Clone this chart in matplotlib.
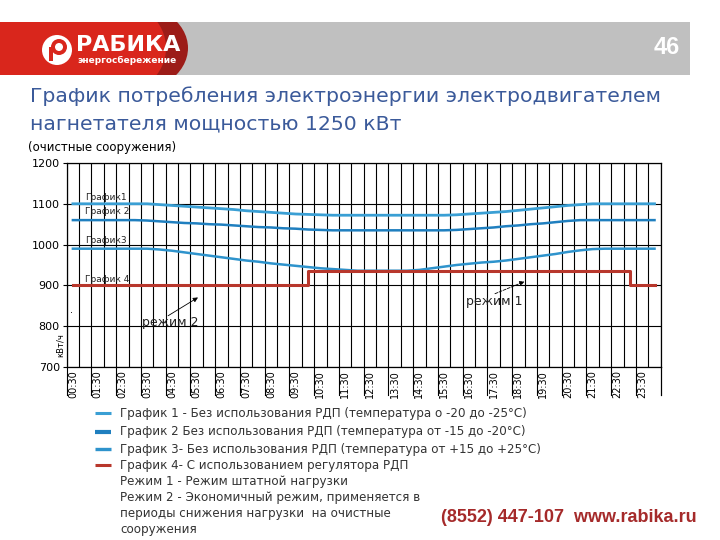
import numpy as np
import matplotlib
matplotlib.use("Agg")
import matplotlib.pyplot as plt
from matplotlib import font_manager
from matplotlib.patches import Rectangle, Ellipse, Circle
from matplotlib.transforms import blended_transform_factory

# ---------------- data ----------------
times = ["00:30", "01:00", "01:30", "02:00", "02:30", "03:00", "03:30", "04:00",
         "04:30", "05:00", "05:30", "06:00", "06:30", "07:00", "07:30", "08:00",
         "08:30", "09:00", "09:30", "10:00", "10:30", "11:00", "11:30", "12:00",
         "12:30", "13:00", "13:30", "14:00", "14:30", "15:00", "15:30", "16:00",
         "16:30", "17:00", "17:30", "18:00", "18:30", "19:00", "19:30", "20:00",
         "20:30", "21:00", "21:30", "22:00", "22:30", "23:00", "23:30", "24:00"]

graph1 = [1100, 1100, 1100, 1100, 1100, 1100, 1100, 1098, 1096, 1094, 1092, 1090,
          1088, 1086, 1083, 1081, 1079, 1077, 1075, 1074, 1073, 1072, 1072, 1072,
          1072, 1072, 1072, 1072, 1072, 1072, 1072, 1073, 1075, 1077, 1079, 1081,
          1084, 1087, 1090, 1093, 1096, 1098, 1100, 1100, 1100, 1100, 1100, 1100]

graph2 = [1060, 1060, 1060, 1060, 1060, 1060, 1059, 1057, 1055, 1053, 1052, 1050,
          1049, 1047, 1045, 1043, 1042, 1040, 1039, 1037, 1036, 1035, 1035, 1035,
          1035, 1035, 1035, 1035, 1035, 1035, 1035, 1036, 1038, 1040, 1042, 1045,
          1047, 1050, 1052, 1055, 1058, 1060, 1060, 1060, 1060, 1060, 1060, 1060]

graph3 = [990, 990, 990, 990, 990, 990, 990, 988, 985, 981, 977, 973,
          969, 965, 961, 958, 954, 951, 948, 945, 942, 940, 938, 936,
          936, 936, 936, 936, 938, 942, 946, 950, 953, 956, 958, 961,
          965, 969, 973, 977, 982, 986, 989, 990, 990, 990, 990, 990]

graph4 = [900, 900, 900, 900, 900, 900, 900, 900, 900, 900, 900, 900,
          900, 900, 900, 900, 900, 900, 900, 935, 935, 935, 935, 935,
          935, 935, 935, 935, 935, 935, 935, 935, 935, 935, 935, 935,
          935, 935, 935, 935, 935, 935, 935, 935, 935, 900, 900, 900]

yticks = [700, 800, 900, 1000, 1100, 1200]

series_labels = ["График1", "График 2", "График3", "График 4"]
legend_lines = [
    "График 1 - Без использования РДП (температура о -20 до -25°С)",
    "График 2 Без использования РДП (температура от -15 до -20°С)",
    "График 3- Без использования РДП (температура от +15 до +25°С)",
    "График 4- С использованием регулятора РДП",
    "Режим 1 - Режим штатной нагрузки",
    "Режим 2 - Экономичный режим, применяется в",
    "периоды снижения нагрузки  на очистные",
    "сооружения",
]

# ---------------- fonts ----------------
names = {f.name for f in font_manager.fontManager.ttflist}
narrow = "Liberation Sans Narrow" if "Liberation Sans Narrow" in names else None
if narrow:
    leg_font, leg_size = narrow, 11.0
else:
    leg_font, leg_size = "DejaVu Sans", 8.6

c1, c2, c3, c4 = "#3a9fd4", "#1f7fbf", "#2e93cc", "#b8372c"

fig = plt.figure(figsize=(7.2, 5.4), dpi=100)

# ---------- decorative overlay in pixel coords ----------
bg = fig.add_axes([0, 0, 1, 1], zorder=0)
bg.set_xlim(0, 720)
bg.set_ylim(540, 0)
bg.axis("off")

bg.add_patch(Rectangle((0, 22), 690, 52.5, color="#c0c0c0", lw=0))
clip = Rectangle((0, 22), 690, 52.5, transform=bg.transData)
e1 = Ellipse((120, 48), 136, 96, color="#9c1c18", lw=0)
bg.add_patch(e1); e1.set_clip_path(clip)
bg.add_patch(Rectangle((0, 22), 120, 52.5, color="#d9261c", lw=0))
e2 = Ellipse((112, 48), 108, 96, color="#d9261c", lw=0)
bg.add_patch(e2); e2.set_clip_path(clip)
# logo
bg.add_patch(Circle((57, 50), 15, color="white", lw=0))
bg.add_patch(Circle((59, 47), 8, color="#d9261c", lw=0))
bg.add_patch(Circle((59, 47), 4, color="white", lw=0))
bg.add_patch(Rectangle((49, 47), 4, 14, color="#d9261c", lw=0))
bg.text(76, 45, "РАБИКА", color="white", fontsize=16, fontweight="bold",
        family="DejaVu Sans", ha="left", va="center")
bg.text(77, 60, "энергосбережение", color="white", fontsize=6.5, fontweight="bold",
        family="DejaVu Sans", ha="left", va="center")
bg.text(680, 47, "46", color="white", fontsize=17, fontweight="bold",
        family="Liberation Sans", ha="right", va="center")

bg.text(30, 96, "График потребления электроэнергии электродвигателем",
        color="#3b5a9a", fontsize=14.7, family="DejaVu Sans", ha="left", va="center")
bg.text(30, 124, "нагнетателя мощностью 1250 кВт",
        color="#3b5a9a", fontsize=14.7, family="DejaVu Sans", ha="left", va="center")
bg.text(28, 147, "(очистные сооружения)", color="black", fontsize=8.5,
        family="DejaVu Sans", ha="left", va="center")

# legend
leg_y = [413, 432, 449, 465, 481, 497, 513, 530]
for i, (txt, yy) in enumerate(zip(legend_lines, leg_y)):
    bg.text(120, yy, txt, color="#333333", fontsize=leg_size, family=leg_font,
            ha="left", va="center")
for col, yy, lw in zip([c1, c2, c3, c4], leg_y[:4], [2.2, 3.0, 2.4, 2.2]):
    bg.plot([95, 111], [yy, yy], color=col, lw=lw, solid_capstyle="butt")

bg.text(697, 518, "(8552) 447-107  www.rabika.ru", color="#a52a2a", fontsize=13,
        fontweight="bold", family="Liberation Sans", ha="right", va="center")

# ---------------- chart ----------------
L, R, T, B = 66.7, 660.7, 163, 367
ax = fig.add_axes([L / 720, 1 - B / 540, (R - L) / 720, (B - T) / 540], zorder=1)
ax.patch.set_alpha(0)
x = np.arange(len(times))

ax.set_xlim(-0.5, len(times) - 0.5)
ax.set_ylim(700, 1200)
ax.set_yticks(yticks)
ax.set_yticklabels([str(v) for v in yticks], fontsize=8, family="DejaVu Sans")
ax.set_xticks(np.arange(-0.5, len(times), 1), minor=True)
ax.set_xticks(x[::2])
ax.set_xticklabels(times[::2], rotation=90, fontsize=7, family="DejaVu Sans", va="top")
ax.tick_params(axis="x", which="both", length=0, pad=2)
ax.tick_params(axis="y", length=3, pad=2)
ax.grid(which="minor", axis="x", color="black", lw=0.8)
ax.grid(which="major", axis="y", color="black", lw=0.8)
ax.set_axisbelow(True)
for s in ax.spines.values():
    s.set_color("black")
    s.set_linewidth(0.9)

trans = blended_transform_factory(ax.transData, ax.transAxes)
bounds = np.append(np.arange(-0.5, len(times), 2), len(times) - 0.5)
for b in bounds:
    ax.plot([b, b], [0, -0.135], transform=trans, clip_on=False, color="black", lw=0.8)

ax.plot(x, graph1, color=c1, lw=2.0, zorder=3)
ax.plot(x, graph2, color=c2, lw=1.8, zorder=3)
ax.plot(x, graph3, color=c3, lw=1.8, zorder=3)
ax.plot(x, graph4, color=c4, lw=2.2, drawstyle="steps-post", zorder=4)

for lab, yy in zip(series_labels, [1115, 1081, 1010, 915]):
    ax.text(1.0, yy, lab, fontsize=6.5, color="#222222", family="DejaVu Sans",
            ha="left", va="center", zorder=5)

ax.text(-0.2, 832, ".", fontsize=7, color="black")

ax.annotate("", xy=(10.3, 874), xytext=(7.5, 822),
            arrowprops=dict(arrowstyle="-|>", color="black", lw=0.6,
                            mutation_scale=7), zorder=5)
ax.text(5.6, 808, "режим 2", fontsize=9, color="#222222", family="DejaVu Sans",
        ha="left", va="center", zorder=5)
ax.annotate("", xy=(36.7, 912), xytext=(33.9, 877),
            arrowprops=dict(arrowstyle="-|>", color="black", lw=0.6, ls="--",
                            mutation_scale=7), zorder=5)
ax.text(31.8, 861, "режим 1", fontsize=9, color="#222222", family="DejaVu Sans",
        ha="left", va="center", zorder=5)

fig.text(60 / 720, 1 - 345 / 540, "кВт/ч", rotation=90, fontsize=6,
         family="DejaVu Sans", ha="center", va="center")

fig.savefig("out.png", dpi=100)
